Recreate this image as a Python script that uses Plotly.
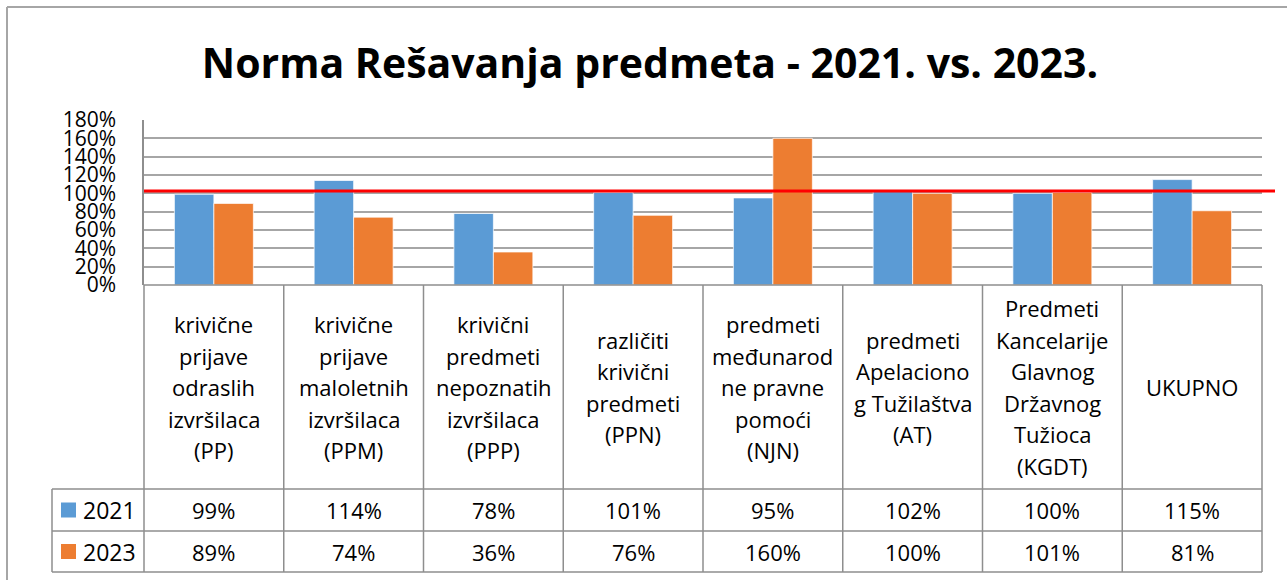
import plotly.graph_objects as go

# ---------------- data ----------------
categories = [
    "krivične prijave odraslih izvršilaca (PP)",
    "krivične prijave maloletnih izvršilaca (PPM)",
    "krivični predmeti nepoznatih izvršilaca (PPP)",
    "različiti krivični predmeti (PPN)",
    "predmeti međunarodne pravne pomoći (NJN)",
    "predmeti Apelacionog Tužilaštva (AT)",
    "Predmeti Kancelarije Glavnog Državnog Tužioca (KGDT)",
    "UKUPNO",
]
category_lines = [
    ["krivične", "prijave", "odraslih", "izvršilaca", "(PP)"],
    ["krivične", "prijave", "maloletnih", "izvršilaca", "(PPM)"],
    ["krivični", "predmeti", "nepoznatih", "izvršilaca", "(PPP)"],
    ["različiti", "krivični", "predmeti", "(PPN)"],
    ["predmeti", "međunarod", "ne pravne", "pomoći", "(NJN)"],
    ["predmeti", "Apelaciono", "g Tužilaštva", "(AT)"],
    ["Predmeti", "Kancelarije", "Glavnog", "Državnog", "Tužioca", "(KGDT)"],
    ["UKUPNO"],
]
series_names = ["2021", "2023"]
values_2021 = [99, 114, 78, 101, 95, 102, 100, 115]
values_2023 = [89, 74, 36, 76, 160, 100, 101, 81]
norm_value = 102.5
y_ticks = [0, 20, 40, 60, 80, 100, 120, 140, 160, 180]
title_text = "Norma Rešavanja predmeta - 2021. vs. 2023."

# ---------------- styling / layout geometry ----------------
W, H = 1287, 580
PL, PR, PT, PB = 144, 1262, 120, 285          # plot area in pixels
BLUE, ORANGE = "#5B9BD5", "#ED7D31"
GRID = "#a6a6a6"
TABLE = "#8e8e8e"
FONT = "Open Sans"
n = len(categories)

def px_x(px):
    return (px - PL) / (PR - PL)

def px_y(py):
    return (PB - py) / (PB - PT)

def bound_x(i):
    # paper x of boundary left of category i (axis range -0.5..n-0.5)
    return i / n

ROW_LABEL_BOTTOM = 489
ROW1_BOTTOM = 531
ROW2_BOTTOM = 572
TABLE_LEFT = 52

fig = go.Figure()
fig.add_trace(go.Bar(x=categories, y=values_2021, name=series_names[0],
                     marker=dict(color=BLUE, line=dict(color="rgba(255,255,255,0.7)", width=1))))
fig.add_trace(go.Bar(x=categories, y=values_2023, name=series_names[1],
                     marker=dict(color=ORANGE, line=dict(color="rgba(255,255,255,0.7)", width=1))))

shapes = []
line_style = dict(color=TABLE, width=1.5)
# horizontal table lines
for py in [PB, ROW_LABEL_BOTTOM, ROW1_BOTTOM, ROW2_BOTTOM]:
    x0 = px_x(TABLE_LEFT) if py != PB else 0
    shapes.append(dict(type="line", xref="paper", yref="paper", x0=x0, x1=1,
                       y0=px_y(py), y1=px_y(py), line=line_style))
# vertical table lines
for i in range(n + 1):
    shapes.append(dict(type="line", xref="paper", yref="paper", x0=bound_x(i), x1=bound_x(i),
                       y0=px_y(PB), y1=px_y(ROW2_BOTTOM), line=line_style))
shapes.append(dict(type="line", xref="paper", yref="paper", x0=px_x(TABLE_LEFT), x1=px_x(TABLE_LEFT),
                   y0=px_y(ROW_LABEL_BOTTOM), y1=px_y(ROW2_BOTTOM), line=line_style))
# legend keys in table
for color, r_top, r_bot in [(BLUE, ROW_LABEL_BOTTOM, ROW1_BOTTOM), (ORANGE, ROW1_BOTTOM, ROW2_BOTTOM)]:
    cy = (r_top + r_bot) / 2
    shapes.append(dict(type="rect", xref="paper", yref="paper",
                       x0=px_x(61), x1=px_x(76), y0=px_y(cy - 7.5), y1=px_y(cy + 7.5),
                       fillcolor=color, line=dict(width=0)))
# red norm line
shapes.append(dict(type="line", xref="paper", yref="y", x0=0, x1=px_x(1275),
                   y0=norm_value, y1=norm_value, line=dict(color="#ff0000", width=3), layer="above"))
# outer chart border (left + top)
shapes.append(dict(type="line", xref="paper", yref="paper", x0=px_x(7), x1=px_x(7),
                   y0=px_y(7), y1=px_y(H + 5), line=dict(color="#a6a6a6", width=2)))
shapes.append(dict(type="line", xref="paper", yref="paper", x0=px_x(7), x1=px_x(W + 5),
                   y0=px_y(7), y1=px_y(7), line=dict(color="#a6a6a6", width=2)))

annotations = []
txt_font = dict(family=FONT, size=22, color="#000000")
LINE_H = 31.5
LABEL_CENTER = 387
for cat, lines in zip(categories, category_lines):
    k = len(lines)
    for j, line in enumerate(lines):
        cy = LABEL_CENTER + (j - (k - 1) / 2) * LINE_H
        annotations.append(dict(x=cat, xref="x", y=px_y(cy), yref="paper", text=line,
                                showarrow=False, xanchor="center", yanchor="middle", font=txt_font))
for vals, r_top, r_bot in [(values_2021, ROW_LABEL_BOTTOM, ROW1_BOTTOM), (values_2023, ROW1_BOTTOM, ROW2_BOTTOM)]:
    cy = (r_top + r_bot) / 2
    for cat, v in zip(categories, vals):
        annotations.append(dict(x=cat, xref="x", y=px_y(cy), yref="paper", text=f"{v}%",
                                showarrow=False, xanchor="center", yanchor="middle", font=txt_font))
for name, r_top, r_bot in [(series_names[0], ROW_LABEL_BOTTOM, ROW1_BOTTOM), (series_names[1], ROW1_BOTTOM, ROW2_BOTTOM)]:
    cy = (r_top + r_bot) / 2
    annotations.append(dict(x=px_x(81), xref="paper", y=px_y(cy), yref="paper", text=name,
                            showarrow=False, xanchor="left", yanchor="middle",
                            font=dict(family=FONT, size=23, color="#000000")))

fig.update_layout(
    width=W, height=H,
    margin=dict(l=PL, r=W - PR, t=PT, b=H - PB, pad=0),
    paper_bgcolor="white", plot_bgcolor="white",
    showlegend=False,
    barmode="group", bargap=0.435, bargroupgap=0,
    title=dict(text=f"<b>{title_text}</b>", x=650 / W, xref="container", xanchor="center",
               y=1 - 64 / H, yref="container", yanchor="middle",
               font=dict(family=FONT, size=41, color="#000000")),
    xaxis=dict(range=[-0.5, n - 0.5], showticklabels=False, showgrid=False, zeroline=False,
               showline=False, ticks=""),
    yaxis=dict(range=[0, 180], tickvals=y_ticks, ticktext=[f"{t}%" for t in y_ticks],
               showgrid=True, gridcolor=GRID, gridwidth=1.5, zeroline=False,
               showline=True, linecolor=TABLE, linewidth=1.5, ticks="",
               ticklabelstandoff=22,
               tickfont=dict(family=FONT, size=21, color="#000000")),
    shapes=shapes, annotations=annotations,
)

fig.write_html("out.html", config={"displayModeBar": False},
               post_script="document.body.style.margin='0px';document.body.style.overflow='hidden';")
